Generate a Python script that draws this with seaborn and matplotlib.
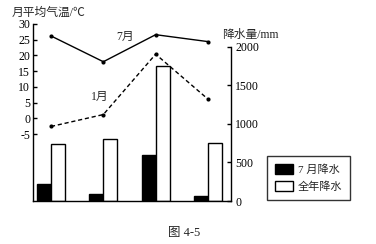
import numpy as np
import pandas as pd
import matplotlib
matplotlib.use("Agg")
import matplotlib.pyplot as plt
import seaborn as sns
from matplotlib.patches import Patch

regions = ["①", "②", "③", "④"]
jul_temp = [26.2, 18.0, 26.6, 24.4]
jan_temp = [-2.6, 1.2, 20.4, 6.1]
jul_precip = [220, 90, 600, 65]
annual_precip = [740, 805, 1750, 750]
series_names = ["7 月降水", "全年降水"]
temp_ticks = [30, 25, 20, 15, 10, 5, 0, -5]
precip_ticks = [0, 500, 1000, 1500, 2000]

sns.set_theme(style="white")
plt.rcParams["font.family"] = ["Liberation Serif", "Noto Sans CJK SC", "DejaVu Sans"]
plt.rcParams["axes.unicode_minus"] = False

df = pd.DataFrame({
    "region": regions * 2,
    "kind": [series_names[0]] * 4 + [series_names[1]] * 4,
    "value": jul_precip + annual_precip,
})

fig = plt.figure(figsize=(3.76, 2.44), dpi=100)
ax = fig.add_axes([33 / 376, 1 - 201 / 244, 198 / 376, (201 - 24) / 244])
ax2 = ax.twinx()

sns.barplot(data=df, x="region", y="value", hue="kind", hue_order=series_names,
            palette=["black", "white"], edgecolor="black", linewidth=1.0,
            width=0.54, ax=ax2, legend=False, saturation=1)

xpos = np.arange(len(regions))
sns.lineplot(x=xpos, y=jul_temp, ax=ax, color="black", linewidth=1.0,
             marker="o", markersize=3, markeredgewidth=0)
sns.lineplot(x=xpos, y=jan_temp, ax=ax, color="black", linewidth=1.0,
             linestyle=(0, (3, 2)), marker="o", markersize=3, markeredgewidth=0)

ax.set_zorder(ax2.get_zorder() + 1)
ax.patch.set_visible(False)

ax.set_xlim(-0.344, 3.44)
ax2.set_xlim(-0.344, 3.44)
ax.set_ylim(-26.3, 30)
ax2.set_ylim(0, 2000 * (201 - 24) / (201 - 47))

ax.set_yticks(temp_ticks)
ax.set_yticklabels([str(t) for t in temp_ticks], fontsize=8.5)
ax2.set_yticks(precip_ticks)
ax2.set_yticklabels([str(t) for t in precip_ticks], fontsize=8.5)
ax.set_xticks(xpos)
ax.set_xticklabels(regions, fontsize=10, family=["Noto Sans CJK SC", "DejaVu Sans"])
ax2.set_xticks([])
ax.set_xlabel("")
ax.set_ylabel("")
ax2.set_xlabel("")
ax2.set_ylabel("")

for s in ["top", "right"]:
    ax.spines[s].set_visible(False)
for s in ["top", "left", "bottom"]:
    ax2.spines[s].set_visible(False)
ax2.spines["right"].set_bounds(0, 2000)
for a in (ax, ax2):
    for sp in a.spines.values():
        sp.set_color("black")
        sp.set_linewidth(1.0)

ax.tick_params(axis="y", direction="in", length=3, width=1, pad=2, colors="black")
ax.tick_params(axis="x", length=0, pad=3, colors="black")
ax2.tick_params(axis="y", direction="in", length=3, width=1, pad=3, colors="black")

ax.text(1.41, 25.9, "7月", fontsize=8.5, ha="center", va="center")
ax.text(0.94, 6.8, "1月", fontsize=8.5, ha="center", va="center")

fig.text(12 / 376, 1 - 12.5 / 244, "月平均气温/℃", fontsize=8.5, ha="left", va="center")
fig.text(250 / 376, 1 - 35 / 244, "降水量/mm", fontsize=8.5, ha="center", va="center")
fig.text(184 / 376, 1 - 233 / 244, "图 4-5", fontsize=9, ha="center", va="center")

handles = [Patch(facecolor="black", edgecolor="black"),
           Patch(facecolor="white", edgecolor="black")]
leg = fig.legend(handles, series_names, loc="lower left",
                 bbox_to_anchor=(267 / 376, 1 - 200 / 244), bbox_transform=fig.transFigure,
                 fontsize=8, frameon=True, fancybox=False, borderaxespad=0,
                 handlelength=1.6, handleheight=1.0, handletextpad=0.5,
                 borderpad=0.7, labelspacing=0.6)
leg.get_frame().set_edgecolor("black")
leg.get_frame().set_linewidth(1.0)

fig.savefig("out.png", dpi=100)
